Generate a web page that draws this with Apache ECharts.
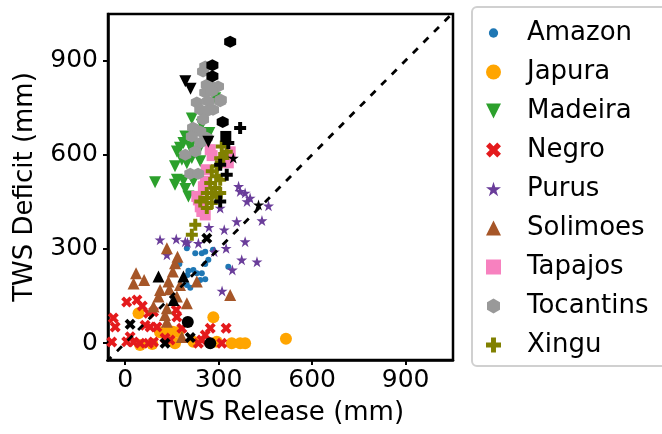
<!DOCTYPE html>
<html>
<head>
<meta charset="utf-8">
<script src="https://cdn.jsdelivr.net/npm/echarts@6/dist/echarts.min.js"></script>
<style>
html,body{margin:0;padding:0;background:#fff;}
#chartBox{width:662px;height:434px;}
</style>
</head>
<body>
<div id="chartBox"></div>
<script>
var basins=['Amazon','Japura','Madeira','Negro','Purus','Solimoes','Tapajos','Tocantins','Xingu'];
var colors=['#1f77b4','#ffa500','#2ca02c','#e41a1c','#6a3d9a','#a65628','#f781bf','#999999','#808000'];
var ticks=[0,300,600,900];

// [TWS release, TWS deficit] in mm
var amazon=[[198,302],[225,286],[246,286],[257,291],[267,265],[257,252],[174,252],[203,230],[219,233],[200,217],[230,222],[246,222],[241,201],[257,203],[198,185],[230,190],[209,176],[331,243],[282,297]];
var japura=[[43,95],[283,82],[112,34],[134,34],[153,36],[170,35],[160,-1],[219,4],[294,4],[342,-1],[369,-1],[385,-1],[516,14],[48,-6],[87,-3]];
var madeira=[[289,780],[214,715],[246,695],[270,669],[193,658],[187,637],[209,625],[176,622],[166,610],[219,605],[234,610],[214,589],[182,584],[198,573],[241,579],[160,563],[96,512],[166,520],[187,517],[219,515],[160,504],[193,491],[203,467]];
var negro=[[5,131],[38,137],[55,118],[75,95],[91,100],[164,105],[166,83],[-38,80],[-32,51],[64,57],[80,51],[102,51],[182,47],[273,47],[324,47],[257,26],[246,10],[235,-1],[310,-1],[-43,3],[5,4],[16,20],[27,3],[48,-1],[75,-1],[91,3],[144,10],[128,16]];
var purus=[[364,499],[369,483],[385,478],[391,451],[401,462],[460,437],[305,430],[358,387],[439,390],[269,369],[318,361],[385,323],[193,323],[235,318],[112,329],[164,331],[200,320],[324,302],[286,291],[374,265],[423,259],[344,233],[311,166],[134,281]];
var solimoes=[[134,302],[168,275],[160,254],[153,228],[35,222],[61,201],[27,190],[139,196],[142,171],[176,185],[107,148],[166,148],[198,127],[91,116],[134,111],[128,89],[134,68],[182,19],[230,196],[337,153],[112,169]];
var tapajos=[[273,616],[279,597],[337,609],[331,574],[260,552],[257,515],[251,498],[230,467],[235,456],[246,419],[257,408],[241,434]];
var tocantins=[[257,881],[250,865],[262,823],[279,817],[298,817],[307,775],[230,766],[257,798],[278,802],[266,770],[305,770],[241,743],[262,738],[282,743],[250,712],[218,686],[241,674],[214,658],[262,654],[241,638],[225,610],[193,600],[209,539],[234,539]];
var xingu=[[310,626],[326,609],[305,589],[315,589],[294,563],[278,547],[294,531],[305,520],[273,510],[289,494],[262,478],[278,478],[305,478],[294,466],[262,462],[278,446],[241,451],[262,430],[225,377],[214,345]];

// highlighted (black) points
var amazonMark=[];
var japuraMark=[[201,67],[273,-1]];
var madeiraMark=[[193,834],[210,810],[267,641]];
var negroMark=[[16,60],[128,-1],[209,18],[262,334]];
var purusMark=[[428,440],[347,589]];
var solimoesMark=[[107,212],[187,212],[155,137]];
var tapajosMark=[[323,658]];
var tocantinsMark=[[337,960],[280,885],[280,850],[313,704]];
var xinguMark=[[369,685],[331,637],[305,568],[326,536],[305,451]];

var hexPath='path://M0,-1 L0.866,-0.5 L0.866,0.5 L0,1 L-0.866,0.5 L-0.866,-0.5 Z';
var starPath='path://M0,-1 L0.225,-0.309 L0.951,-0.309 L0.363,0.118 L0.588,0.809 L0,0.382 L-0.588,0.809 L-0.363,0.118 L-0.951,-0.309 L-0.225,-0.309 Z';
var xPath='path://M-1,-0.5 L-0.5,-1 L0,-0.5 L0.5,-1 L1,-0.5 L0.5,0 L1,0.5 L0.5,1 L0,0.5 L-0.5,1 L-1,0.5 L-0.5,0 Z';
var plusPath='path://M-0.33,-1 L0.33,-1 L0.33,-0.33 L1,-0.33 L1,0.33 L0.33,0.33 L0.33,1 L-0.33,1 L-0.33,0.33 L-1,0.33 L-1,-0.33 L-0.33,-0.33 Z';
var downPath='path://M-1,-1 L1,-1 L0,1 Z';
var smallDot='path://M-1,-1 L-1,-1 M1,1 L1,1 M0.62,0 A0.62,0.62 0 1 1 -0.62,0 A0.62,0.62 0 1 1 0.62,0 Z';

var pts=[amazon,japura,madeira,negro,purus,solimoes,tapajos,tocantins,xingu];
var marks=[amazonMark,japuraMark,madeiraMark,negroMark,purusMark,solimoesMark,tapajosMark,tocantinsMark,xinguMark];
var symbols=['circle','circle',downPath,xPath,starPath,'triangle','rect',hexPath,plusPath];
var sizes=[6,12,12,11,11,12,11,12,12];

var series=[];
for(var i=0;i<basins.length;i++){
	series.push({
		name:basins[i],
		type:'scatter',
		symbol:symbols[i],
		symbolSize:sizes[i],
		itemStyle:{color:colors[i],opacity:1},
		data:pts[i]
	});
}
for(var i=0;i<basins.length;i++){
	series.push({
		name:basins[i]+' mark',
		type:'scatter',
		symbol:symbols[i],
		symbolSize:sizes[i],
		itemStyle:{color:'#000',opacity:1},
		data:marks[i]
	});
}
series.push({
	type:'line',
	data:[[-60,-60],[1060,1060]],
	showSymbol:false,
	symbol:'none',
	silent:true,
	z:5,
	lineStyle:{color:'#000',width:2.8,type:[7,8]}
});

var legendData=[];
for(var i=0;i<basins.length;i++){
	var item={name:basins[i]};
	if(i==0)item.icon=smallDot;
	legendData.push(item);
}

var font='DejaVu Sans';
var myChart=echarts.init(document.getElementById('chartBox'));
var option={
	animation:false,
	textStyle:{fontFamily:font},
	grid:{left:108,right:209,top:14,bottom:74,show:true,borderColor:'#000',borderWidth:2.5},
	legend:{
		orient:'vertical',
		left:472,
		top:7,
		padding:[13,40,8,14],
		itemWidth:15,
		itemHeight:15,
		itemGap:13,
		borderColor:'#d0d0d0',
		borderWidth:2,
		borderRadius:5,
		textStyle:{fontFamily:font,fontSize:26,color:'#000',padding:[0,0,0,21]},
		data:legendData
	},
	xAxis:{
		type:'value',
		min:-55,
		max:1052,
		name:'TWS Release (mm)',
		nameLocation:'middle',
		nameGap:40,
		nameTextStyle:{fontFamily:font,fontSize:26,color:'#000'},
		axisLine:{show:true,onZero:false,lineStyle:{color:'#000',width:2.5}},
		axisTick:{show:true,length:5,lineStyle:{color:'#000',width:2},customValues:ticks},
		axisLabel:{fontFamily:font,fontSize:25,color:'#000',margin:8,customValues:ticks},
		splitLine:{show:false}
	},
	yAxis:{
		type:'value',
		min:-54,
		max:1048,
		name:'TWS Deficit (mm)',
		nameLocation:'middle',
		nameGap:70,
		nameTextStyle:{fontFamily:font,fontSize:26,color:'#000'},
		axisLine:{show:true,onZero:false,lineStyle:{color:'#000',width:2.5}},
		axisTick:{show:true,length:5,lineStyle:{color:'#000',width:2},customValues:ticks},
		axisLabel:{fontFamily:font,fontSize:25,color:'#000',margin:10,customValues:ticks},
		splitLine:{show:false}
	},
	series:series
};
myChart.setOption(option);
</script>
</body>
</html>
